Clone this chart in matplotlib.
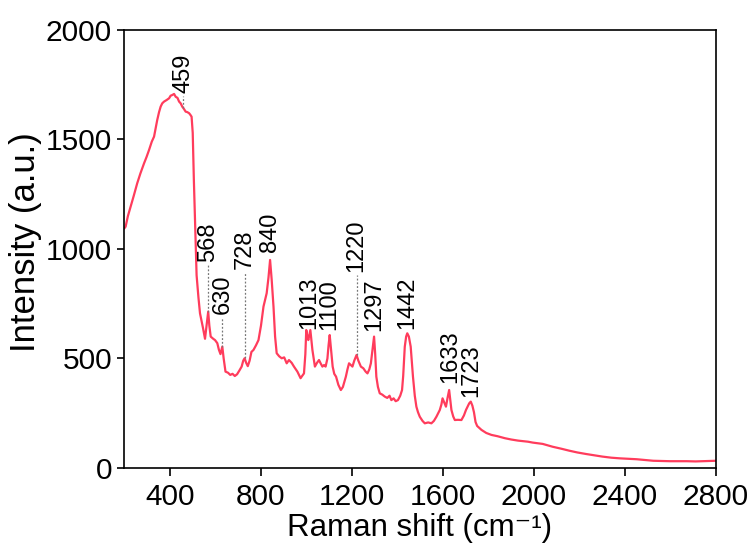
import numpy as np
import matplotlib
import matplotlib.pyplot as plt
matplotlib.use('Agg')

plt.rcParams['font.family'] = ['Liberation Sans', 'DejaVu Sans']

# spectrum
shift = [200, 205, 215, 227, 240, 256, 270, 286, 297, 308, 320, 330, 338, 344, 352,
         359, 366, 374, 385, 396, 403, 410, 418, 425, 433, 440, 447, 454, 461, 469,
         476, 484, 490, 495, 500, 505, 512, 517, 525, 532, 545, 554, 561, 568, 573,
         579, 590, 598, 608, 615, 622, 630, 636, 644, 655, 665, 675, 685, 695, 705,
         715, 722, 728, 735, 742, 750, 758, 767, 778, 789, 800, 811, 825, 833, 840,
         847, 855, 862, 869, 880, 891, 902, 913, 923, 935, 945, 960, 974, 989, 995,
         999, 1004, 1008, 1013, 1017, 1022, 1026, 1037, 1046, 1055, 1062, 1070, 1077, 1084, 1092,
         1097, 1102, 1108, 1115, 1122, 1130, 1140, 1151, 1160, 1173, 1180, 1187, 1195, 1202, 1210,
         1220, 1228, 1239, 1250, 1260, 1268, 1276, 1283, 1290, 1297, 1302, 1307, 1314, 1322, 1333,
         1344, 1355, 1365, 1373, 1383, 1392, 1402, 1412, 1420, 1425, 1432, 1438, 1443, 1450, 1458,
         1468, 1476, 1483, 1490, 1498, 1510, 1520, 1535, 1549, 1560, 1571, 1586, 1593, 1598, 1605,
         1613, 1620, 1627, 1632, 1637, 1645, 1652, 1665, 1681, 1692, 1701, 1708, 1715, 1722, 1729,
         1736, 1743, 1750, 1769, 1790, 1813, 1840, 1872, 1900, 1930, 1974, 1994, 2038, 2082, 2120,
         2155, 2190, 2228, 2265, 2301, 2340, 2378, 2415, 2451, 2490, 2524, 2560, 2597, 2640, 2671,
         2710, 2744, 2775, 2800]
intensity = [1095, 1102, 1150, 1193, 1240, 1300, 1345, 1391, 1420, 1452, 1490, 1513, 1555, 1589, 1625,
             1650, 1665, 1673, 1680, 1688, 1700, 1703, 1708, 1695, 1690, 1673, 1665, 1650, 1640, 1627,
             1625, 1620, 1612, 1604, 1530, 1315, 1060, 880, 780, 706, 640, 590, 650, 714, 650,
             600, 590, 584, 570, 540, 520, 554, 500, 440, 435, 425, 430, 420, 428, 445,
             463, 490, 501, 480, 465, 490, 530, 539, 560, 584, 650, 737, 798, 870, 950,
             860, 737, 600, 524, 510, 501, 505, 478, 493, 480, 463, 440, 410, 432, 520,
             630, 600, 584, 610, 630, 580, 539, 463, 480, 493, 478, 463, 470, 463, 500,
             560, 607, 540, 463, 430, 417, 380, 356, 370, 417, 450, 478, 470, 463, 490,
             516, 490, 463, 455, 440, 432, 450, 478, 540, 600, 520, 417, 370, 341, 335,
             326, 320, 330, 310, 318, 305, 310, 330, 356, 420, 554, 600, 615, 600, 554,
             417, 330, 280, 255, 234, 215, 204, 208, 204, 215, 234, 265, 290, 318, 300,
             280, 320, 356, 310, 265, 235, 219, 220, 219, 240, 265, 280, 295, 303, 285,
             255, 210, 192, 174, 160, 151, 145, 136, 130, 125, 120, 116, 110, 97, 88,
             79, 71, 64, 58, 52, 47, 44, 42, 40, 36, 33, 32, 31, 31, 31,
             30, 31, 32, 33]

peaks = [459, 568, 630, 728, 840, 1013, 1100, 1220, 1297, 1442, 1633, 1723]
label_y = [1712, 941, 705, 910, 985, 635, 630, 895, 625, 635, 390, 322]
dotted = [459, 568, 630, 728, 1220]

fig = plt.figure(figsize=(7.53, 5.48), dpi=100)
ax = fig.add_axes([0.1653, 0.146, 0.7856, 0.7993])

ax.plot(shift, intensity, color='#FF3C5C', lw=1.6)

for p, ly in zip(peaks, label_y):
    ax.text(p, ly, str(p), rotation=90, ha='center', va='bottom', fontsize=17)
    if p in dotted:
        ax.plot([p, p], [np.interp(p, shift, intensity), ly - 15],
                color='#777777', lw=0.9, ls=(0, (1.5, 1.5)))

ax.set_xlim(200, 2800)
ax.set_ylim(0, 2000)
ax.set_xticks(np.arange(400, 2801, 400))
ax.set_yticks(np.arange(0, 2001, 500))
ax.tick_params(direction='out', length=6, width=1.2, labelsize=21.5, pad=5,
               top=False, right=False)
ax.tick_params(axis='y', length=5, pad=4)
for s in ax.spines.values():
    s.set_linewidth(1.2)

ax.set_xlabel('Raman shift (cm\u207b\u00b9)', fontsize=22.5)
ax.set_ylabel('Intensity (a.u.)', fontsize=25)
ax.xaxis.set_label_coords(0.499, -0.103)
ax.yaxis.set_label_coords(-0.14, 0.516)

fig.savefig('out.png', dpi=100)
